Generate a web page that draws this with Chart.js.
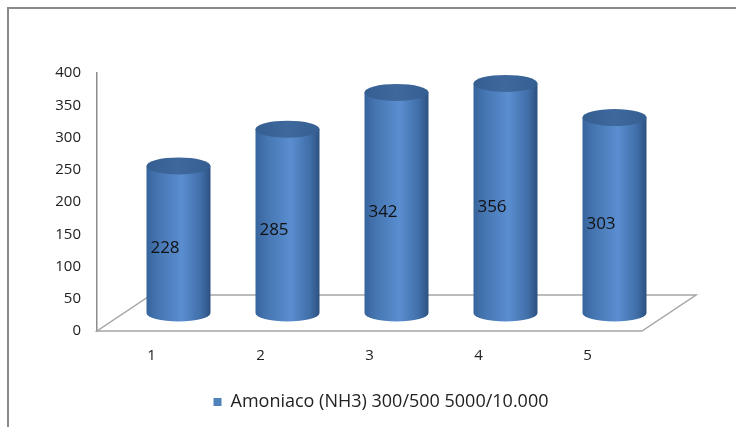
<!DOCTYPE html>
<html>
<head>
<meta charset="utf-8">
<script src="https://cdn.jsdelivr.net/npm/chart.js@4.4.1/dist/chart.umd.min.js"></script>
<style>
    html, body { margin: 0; padding: 0; background: #fff; }
    #wrap { width: 736px; height: 427px; position: relative; }
</style>
</head>
<body>
<div id="wrap"><canvas id="nh3-chart"></canvas></div>
<script>
// 数据
const categories = ['1', '2', '3', '4', '5'];
const nh3Values = [228, 285, 342, 356, 303];
const seriesName = 'Amoniaco (NH3) 300/500 5000/10.000';
const yTicks = [0, 50, 100, 150, 200, 250, 300, 350, 400];

const FONT = "'Open Sans', 'DejaVu Sans', sans-serif";
const DEPTH_X = 54, DEPTH_Y = 36;   // 地板的透视偏移
const RADIUS = 32, RY = 8.5;        // 圆柱半径 / 椭圆纵向半径
const LEGEND_SHIFT = 60;            // 图例整体右移

// 外框
const framePlugin = {
    id: 'frame',
    afterLayout(chart) {
        chart.legend.left += LEGEND_SHIFT;
        chart.legend.right += LEGEND_SHIFT;
    },
    beforeDraw(chart) {
        const ctx = chart.ctx;
        ctx.save();
        ctx.strokeStyle = '#8a8a8a';
        ctx.lineWidth = 2;
        ctx.beginPath();
        ctx.moveTo(8, chart.height + 5);
        ctx.lineTo(8, 8);
        ctx.lineTo(chart.width + 5, 8);
        ctx.stroke();
        ctx.restore();
    }
};

// 地板 + 圆柱 + 数值标签
const cylinderPlugin = {
    id: 'cylinders',
    beforeDatasetDraw(chart, args) {
        const ctx = chart.ctx;
        const area = chart.chartArea;
        const yScale = chart.scales.y;
        const meta = args.meta;

        // 地板
        ctx.save();
        ctx.strokeStyle = '#a6a6a6';
        ctx.lineWidth = 1.5;
        ctx.beginPath();
        ctx.moveTo(area.left, area.bottom);
        ctx.lineTo(area.right, area.bottom);
        ctx.lineTo(area.right + DEPTH_X, area.bottom - DEPTH_Y);
        ctx.lineTo(area.left + DEPTH_X, area.bottom - DEPTH_Y);
        ctx.closePath();
        ctx.stroke();
        ctx.restore();

        const base = yScale.getPixelForValue(0);
        meta.data.forEach((bar, i) => {
            const v = nh3Values[i];
            const cx = bar.x + DEPTH_X / 2;
            const yBottom = base - DEPTH_Y / 2;
            const yTop = yScale.getPixelForValue(v) - DEPTH_Y / 2;
            const l = cx - RADIUS, r = cx + RADIUS;

            // 柱身
            const g = ctx.createLinearGradient(l, 0, r, 0);
            g.addColorStop(0, '#36649c');
            g.addColorStop(0.18, '#4676b2');
            g.addColorStop(0.55, '#5a8ed0');
            g.addColorStop(0.85, '#406ea8');
            g.addColorStop(1, '#2d5181');
            ctx.save();
            ctx.fillStyle = g;
            ctx.beginPath();
            ctx.moveTo(l, yTop);
            ctx.lineTo(l, yBottom);
            ctx.ellipse(cx, yBottom, RADIUS, RY, 0, Math.PI, 0, true);
            ctx.lineTo(r, yTop);
            ctx.closePath();
            ctx.fill();

            // 顶面
            const tg = ctx.createLinearGradient(l, 0, r, 0);
            tg.addColorStop(0, '#355e91');
            tg.addColorStop(0.5, '#3f699d');
            tg.addColorStop(1, '#355e91');
            ctx.fillStyle = tg;
            ctx.beginPath();
            ctx.ellipse(cx, yTop, RADIUS, RY, 0, 0, Math.PI * 2);
            ctx.fill();

            // 数值标签
            const front = yScale.getPixelForValue(v);
            ctx.fillStyle = '#111';
            ctx.font = '17px ' + FONT;
            ctx.textAlign = 'center';
            ctx.textBaseline = 'middle';
            ctx.fillText(String(v), bar.x + DEPTH_X / 4, (front + base) / 2 - DEPTH_Y / 4);
            ctx.restore();
        });
        return false;
    }
};

new Chart(document.getElementById('nh3-chart'), {
    type: 'bar',
    data: {
        labels: categories,
        datasets: [{
            label: seriesName,
            data: nh3Values,
            backgroundColor: '#4f81bd'
        }]
    },
    options: {
        responsive: true,
        maintainAspectRatio: false,
        animation: false,
        devicePixelRatio: 1,
        layout: {
            padding: { left: 0, top: 73, right: 94, bottom: 6 }
        },
        scales: {
            x: {
                grid: { display: false, drawTicks: false },
                border: { display: false },
                ticks: { padding: 16, color: '#222', font: { family: FONT, size: 15 } }
            },
            y: {
                min: 0,
                max: 400,
                afterFit(scale) { scale.width = 97; },
                afterBuildTicks(scale) { scale.ticks = yTicks.map(v => ({ value: v })); },
                grid: { display: false, drawTicks: false },
                border: { display: true, color: '#8c8c8c', width: 1.5 },
                ticks: { padding: 16, color: '#222', font: { family: FONT, size: 15 } }
            }
        },
        plugins: {
            legend: {
                position: 'bottom',
                labels: {
                    boxWidth: 8,
                    boxHeight: 8,
                    padding: 12,
                    color: '#222',
                    font: { family: FONT, size: 18 }
                }
            },
            tooltip: { enabled: false }
        }
    },
    plugins: [framePlugin, cylinderPlugin]
});
</script>
</body>
</html>
